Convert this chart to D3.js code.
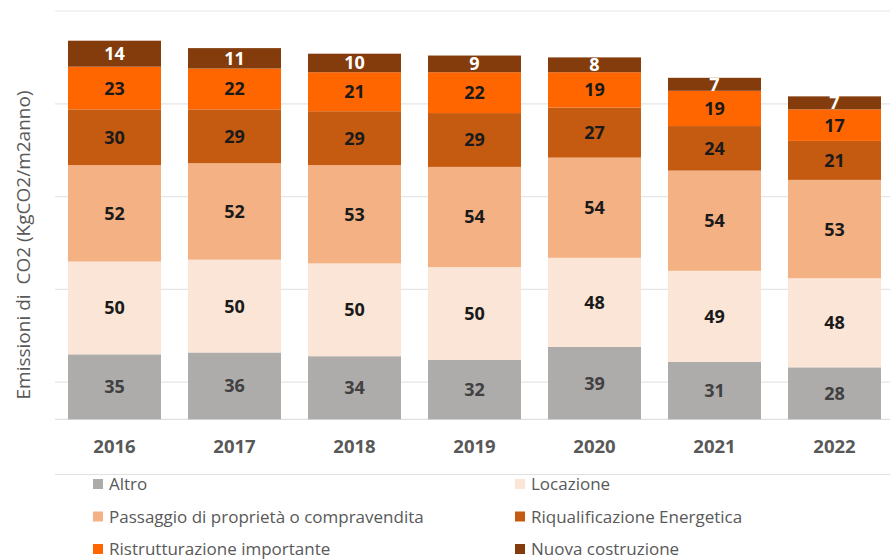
<!DOCTYPE html>
<html>
<head>
<meta charset="utf-8">
<script src="https://cdn.jsdelivr.net/npm/d3@7"></script>
<style>
  body { margin: 0; background: #fff; }
  text { font-family: "Open Sans", sans-serif; }
</style>
</head>
<body>
<div id="chart"></div>
<script>
// Data
var years = ["2016", "2017", "2018", "2019", "2020", "2021", "2022"];
var seriesNames = ["Altro", "Locazione", "Passaggio di proprietà o compravendita",
  "Riqualificazione Energetica", "Ristrutturazione importante", "Nuova costruzione"];
var altro = [35, 36, 34, 32, 39, 31, 28];
var locazione = [50, 50, 50, 50, 48, 49, 48];
var passaggio = [52, 52, 53, 54, 54, 54, 53];
var riqualificazione = [30, 29, 29, 29, 27, 24, 21];
var ristrutturazione = [23, 22, 21, 22, 19, 19, 17];
var nuova = [14, 11, 10, 9, 8, 7, 7];
var gridValues = [20, 70, 120, 170, 220];

// Constants
var WIDTH = 890, HEIGHT = 560;
var COLORS = ["#aeabab", "#fbe5d6", "#f4b183", "#c55a11", "#ff6600", "#843c0c"];
var LABEL_COLORS = ["#404040", "#1a1a1a", "#1a1a1a", "#1a1a1a", "#1a1a1a", "#ffffff"];

var seriesValues = [altro, locazione, passaggio, riqualificazione, ristrutturazione, nuova];
var table = years.map(function(y, i) {
  var row = { year: y };
  seriesNames.forEach(function(s, j) { row[s] = seriesValues[j][i]; });
  return row;
});
var stacked = d3.stack().keys(seriesNames)(table);

var svg = d3.select("#chart").append("svg")
  .attr("width", WIDTH)
  .attr("height", HEIGHT)
  .style("background", "#ffffff");

var x = d3.scaleBand()
  .domain(years)
  .range([54.5, 894.5])
  .paddingInner(0.225)
  .paddingOuter(0.1125);

var y = d3.scaleLinear()
  .domain([0, 220])
  .range([419.3, 11]);

// gridlines
svg.append("g").selectAll("line")
  .data(gridValues)
  .enter().append("line")
  .attr("x1", 55).attr("x2", 890)
  .attr("y1", function(d) { return y(d); })
  .attr("y2", function(d) { return y(d); })
  .attr("stroke", "#e6e6e6")
  .attr("stroke-width", 1.2);

// baseline
svg.append("line")
  .attr("x1", 55).attr("x2", 890)
  .attr("y1", y(0)).attr("y2", y(0))
  .attr("stroke", "#e0e0e0")
  .attr("stroke-width", 1.2);

// stacks
var layers = svg.append("g").selectAll("g")
  .data(stacked)
  .enter().append("g")
  .attr("fill", function(d, i) { return COLORS[i]; });

layers.selectAll("rect")
  .data(function(d) { return d; })
  .enter().append("rect")
  .attr("x", function(d) { return x(d.data.year); })
  .attr("width", x.bandwidth())
  .attr("y", function(d) { return y(d[1]); })
  .attr("height", function(d) { return y(d[0]) - y(d[1]); });

// labels
stacked.forEach(function(layer, i) {
  svg.append("g").selectAll("text")
    .data(layer)
    .enter().append("text")
    .attr("x", function(d) { return x(d.data.year) + x.bandwidth() / 2; })
    .attr("y", function(d) { return (y(d[0]) + y(d[1])) / 2; })
    .attr("dy", "0.36em")
    .attr("text-anchor", "middle")
    .attr("font-size", 18)
    .attr("font-weight", "bold")
    .attr("fill", LABEL_COLORS[i])
    .text(function(d) { return d[1] - d[0]; });
});

// x axis labels
svg.append("g").selectAll("text")
  .data(years)
  .enter().append("text")
  .attr("x", function(d) { return x(d) + x.bandwidth() / 2; })
  .attr("y", 446)
  .attr("dy", "0.36em")
  .attr("text-anchor", "middle")
  .attr("font-size", 18.5)
  .attr("font-weight", "bold")
  .attr("fill", "#595959")
  .text(function(d) { return d; });

// y title
svg.append("text")
  .attr("transform", "translate(23,245) rotate(-90)")
  .attr("dy", "0.36em")
  .attr("text-anchor", "middle")
  .attr("font-size", 19)
  .attr("fill", "#595959")
  .attr("xml:space", "preserve")
  .text("Emissioni di  CO2 (KgCO2/m2anno)");

// legend separator
svg.append("line")
  .attr("x1", 55).attr("x2", 890)
  .attr("y1", 474.5).attr("y2", 474.5)
  .attr("stroke", "#e0e0e0")
  .attr("stroke-width", 1.2);

// legend
var legend = svg.append("g").selectAll("g")
  .data(seriesNames)
  .enter().append("g")
  .attr("transform", function(d, i) {
    var col = i % 2, row = Math.floor(i / 2);
    return "translate(" + (col ? 515 : 93) + "," + (484 + row * 32.5) + ")";
  });

legend.append("rect")
  .attr("x", 0).attr("y", -5)
  .attr("width", 10).attr("height", 10)
  .attr("fill", function(d, i) { return COLORS[i]; });

legend.append("text")
  .attr("x", 16)
  .attr("dy", "0.36em")
  .attr("font-size", 17)
  .attr("fill", "#595959")
  .text(function(d) { return d; });
</script>
</body>
</html>
